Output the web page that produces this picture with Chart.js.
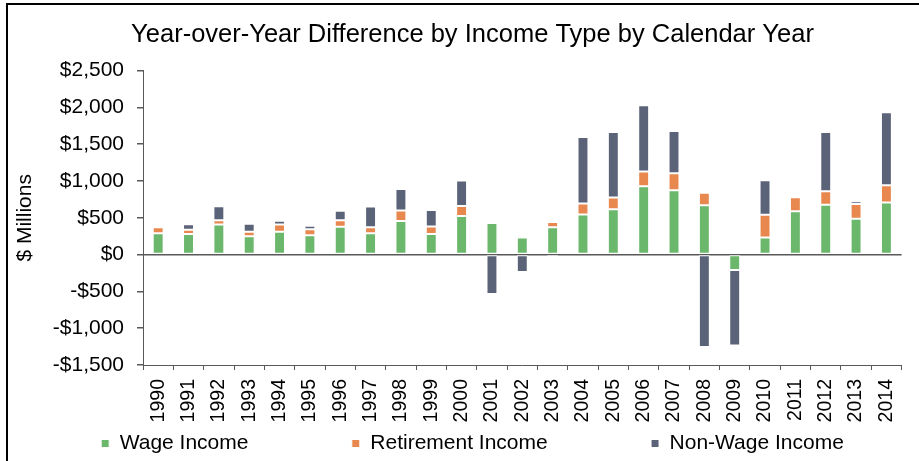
<!doctype html>
<html lang="en">
  <head>
    <meta charset="UTF-8" />
    <title>Year-over-Year Difference by Income Type</title>
    <style>
      html, body { margin: 0; padding: 0; background: #fff; overflow: hidden; }
      .frame { position: absolute; left: 6px; top: 3px; width: 1000px; height: 1000px; border: 2px solid #000; }
      .chart-container { position: absolute; left: 0; top: 0; width: 919px; height: 461px; }
    </style>
  </head>
  <body>
    <div class="frame"></div>
    <div class="chart-container">
      <canvas id="incomeChart"></canvas>
    </div>
    <script src="https://cdn.jsdelivr.net/npm/chart.js"></script>
    <script>
      // values in $ millions
      const years = ["1990", "1991", "1992", "1993", "1994", "1995", "1996", "1997", "1998", "1999",
        "2000", "2001", "2002", "2003", "2004", "2005", "2006", "2007", "2008", "2009",
        "2010", "2011", "2012", "2013", "2014"];
      const wageIncome = [290, 281, 408, 249, 309, 263, 377, 290, 458, 281,
        526, 431, 231, 372, 544, 617, 929, 875, 671, -208,
        231, 589, 676, 486, 708];
      const retirementIncome = [80, 55, 59, 60, 100, 80, 90, 80, 140, 100,
        135, 0, 0, 70, 150, 160, 200, 230, 170, 0,
        310, 190, 185, 200, 235];
      const nonWageIncome = [25, 75, 190, 110, 50, 50, 130, 285, 295, 225,
        345, -535, -236, -36, 905, 890, 900, 575, -1256, -1026,
        470, 0, 805, 40, 990];
      const yTicks = [-1500, -1000, -500, 0, 500, 1000, 1500, 2000, 2500];

      const axisColor = "#595959";
      const font = "'Liberation Sans', Arial, sans-serif";

      function money(v) {
        const s = "$" + Math.abs(v).toLocaleString("en-US");
        return v < 0 ? "-" + s : s;
      }

      const ctx = document.getElementById("incomeChart").getContext("2d");
      const chart = new Chart(ctx, {
        type: "bar",
        data: {
          labels: years,
          datasets: [
            { label: "Wage Income", data: wageIncome, backgroundColor: "#6bb76b" },
            { label: "Retirement Income", data: retirementIncome, backgroundColor: "#e8884f" },
            { label: "Non-Wage Income", data: nonWageIncome, backgroundColor: "#5b6378" },
          ],
        },
        options: {
          responsive: true,
          maintainAspectRatio: false,
          animation: false,
          layout: { padding: { left: 35, right: 9, top: 20, bottom: -3 } },
          datasets: {
            bar: {
              barPercentage: 0.36,
              categoryPercentage: 1,
              borderWidth: 1,
              borderColor: "#ffffff",
              borderSkipped: false,
            },
          },
          plugins: {
            title: {
              display: true,
              text: "Year-over-Year Difference by Income Type by Calendar Year",
              color: "#000",
              font: { family: font, size: 25.5, weight: "normal" },
              padding: { top: 0, bottom: 20 },
            },
            legend: {
              position: "bottom",
              labels: {
                color: "#000",
                font: { family: font, size: 21 },
                boxWidth: 8,
                boxHeight: 8,
                padding: 10,
                generateLabels: function (chart) {
                  const items = Chart.defaults.plugins.legend.labels.generateLabels(chart);
                  items.forEach((item, i) => {
                    if (i < items.length - 1) item.text = item.text + " ".repeat(16);
                  });
                  return items;
                },
              },
            },
            tooltip: { enabled: false },
          },
          scales: {
            x: {
              stacked: true,
              afterFit: (scale) => {
                scale.height = 58;
              },
              border: { display: true, color: axisColor, width: 1 },
              grid: {
                offset: true,
                drawOnChartArea: false,
                drawTicks: true,
                tickLength: 5,
                tickColor: axisColor,
              },
              ticks: {
                color: "#000",
                font: { family: font, size: 19.5 },
                minRotation: 90,
                maxRotation: 90,
                autoSkip: false,
                padding: 9,
              },
            },
            y: {
              stacked: true,
              min: -1500,
              max: 2500,
              afterBuildTicks: (scale) => {
                scale.ticks = yTicks.map((v) => ({ value: v }));
              },
              afterFit: (scale) => {
                scale.width = 108;
              },
              border: { display: true, color: axisColor, width: 1 },
              grid: {
                color: (c) => (c.tick && c.tick.value === 0 ? axisColor : "rgba(0,0,0,0)"),
                lineWidth: 1.5,
                drawTicks: true,
                tickLength: 6,
                tickColor: axisColor,
              },
              ticks: {
                color: "#000",
                font: { family: font, size: 21 },
                padding: 13,
                callback: (v) => money(v),
              },
              title: {
                display: true,
                text: "$ Millions",
                color: "#000",
                font: { family: font, size: 21 },
                padding: { top: -22, bottom: 0 },
              },
            },
          },
        },
      });
    </script>
  </body>
</html>
